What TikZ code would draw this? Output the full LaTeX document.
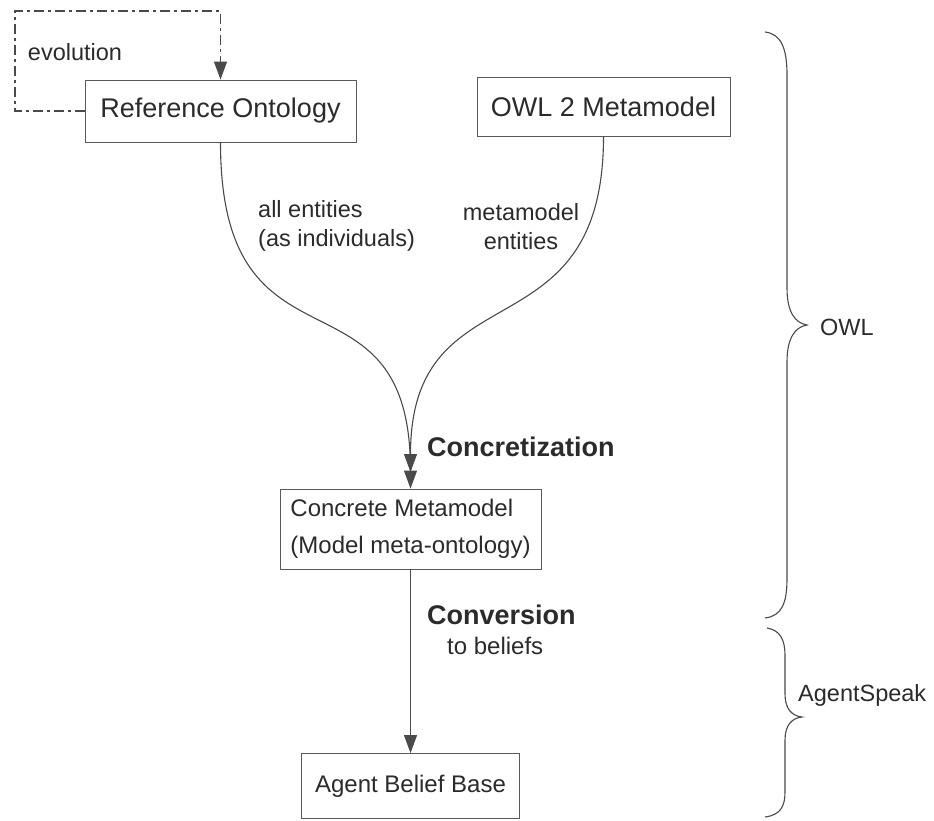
\documentclass[tikz,border=0pt]{standalone}
\usepackage{fontspec}
\setmainfont{Liberation Sans}
\usetikzlibrary{arrows.meta}
\definecolor{ink}{HTML}{2B2B2B}
\definecolor{linegray}{HTML}{4A4A4A}
\definecolor{boxgray}{HTML}{5A5A5A}
\begin{document}
\begin{tikzpicture}[x=1pt,y=-1pt,
  box/.style={draw=boxgray, line width=0.9pt, fill=white, text=ink, inner sep=0pt},
  bigtext/.style={font=\fontsize{27}{32}\selectfont},
  midtext/.style={font=\fontsize{24}{37}\selectfont},
  lbl/.style={text=ink, inner sep=0pt, font=\fontsize{23.5}{29}\selectfont},
  boldlbl/.style={text=ink, inner sep=0pt, font=\fontsize{27}{30}\selectfont\bfseries},
  flow/.style={draw=linegray, line width=1.1pt, -{Triangle[length=18pt,width=13pt]}},
  evo/.style={draw=linegray, line width=1.1pt, dash pattern=on 10pt off 4pt on 3pt off 4pt,
              -{Triangle[length=18pt,width=13pt]}},
  bracepath/.style={draw=linegray, line width=1.1pt}]

% canvas
\fill[white] (0,0) rectangle (934,821);
\useasboundingbox (0,0) rectangle (934,821);

% boxes
\node[box, bigtext, minimum width=271pt, minimum height=62pt] (ref) at (220.5,111) {Reference Ontology};
\node[box, bigtext, minimum width=253pt, minimum height=59pt] (meta) at (603.5,106.5) {OWL 2 Metamodel};
\node[box, midtext, align=left, minimum width=261pt, minimum height=80pt] (conc) at (410.5,529) {Concrete Metamodel\\(Model meta-ontology)};
\node[box, midtext, minimum width=218pt, minimum height=65pt] (agent) at (410.5,786) {Agent Belief Base};

% evolution loop on the reference ontology
\coordinate (loop) at (15,11);
\draw[evo] (ref.west) -| (loop) -| (ref.north);
\node[lbl] (evolbl) at (75,52) {evolution};

% concretization: both sources merge into the concrete metamodel
\coordinate (merge) at (410.5,472);
\draw[flow] (ref.south) .. controls (220.5,390) and (410.5,255) .. (conc.north);
\draw[flow] (meta.south) .. controls (603.5,360) and (410.5,265) .. (merge);
\node[lbl, align=left, anchor=west] (alllbl) at (258,226) {all entities\\(as individuals)};
\node[lbl, align=center] (metalbl) at (521,227) {metamodel\\entities};
\node[boldlbl, anchor=west] (conclbl) at (427,447) {Concretization};

% conversion to beliefs
\draw[flow] (conc.south) -- (agent.north);
\node[lbl, align=left, anchor=west, font=\fontsize{24}{30}\selectfont] (convlbl) at (427,630)
  {{\fontsize{27}{30}\selectfont\bfseries Conversion}\\\hspace*{20pt}to beliefs};

% language braces
\draw[bracepath] (765,32) .. controls (782,34) and (787,50) .. (787,75) -- (787,288)
  .. controls (787,312) and (795,323) .. (807,325)
  .. controls (795,327) and (787,338) .. (787,362) -- (787,578)
  .. controls (787,603) and (782,616) .. (765,618);
\node[lbl, anchor=west] (owllbl) at (820,327) {OWL};

\draw[bracepath] (767,628) .. controls (780,630) and (785,640) .. (785,655) -- (785,694)
  .. controls (785,709) and (792,716) .. (802,717)
  .. controls (792,718) and (785,725) .. (785,740) -- (785,792)
  .. controls (785,807) and (780,815) .. (765,817);
\node[lbl, anchor=west] (aslbl) at (798,695) {AgentSpeak};
\end{tikzpicture}
\end{document}
